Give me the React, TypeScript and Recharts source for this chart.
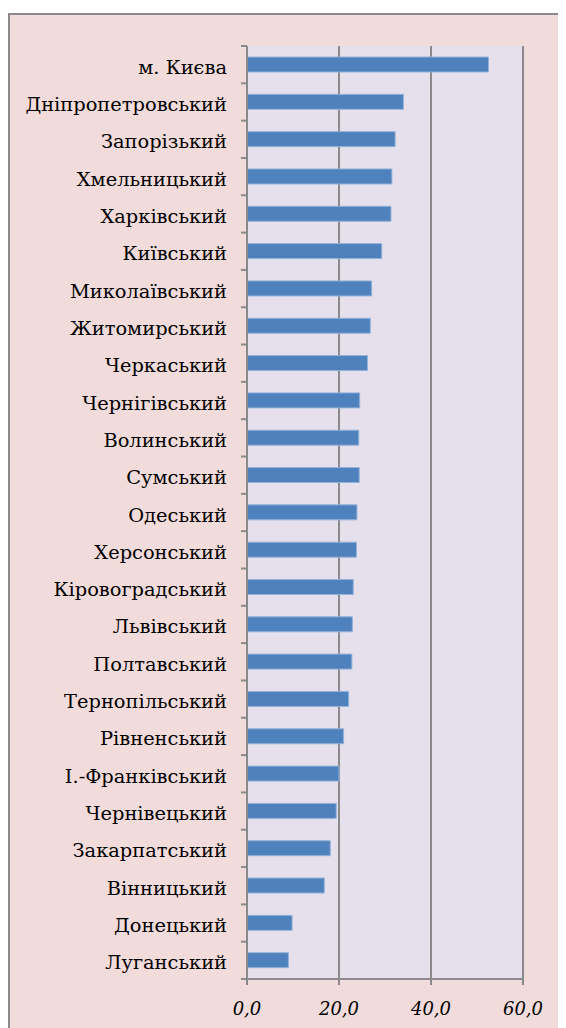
import React from 'react';
import { BarChart, Bar, XAxis, YAxis, CartesianGrid } from 'recharts';

const regions = [
  'м. Києва', 'Дніпропетровський', 'Запорізький', 'Хмельницький', 'Харківський',
  'Київський', 'Миколаївський', 'Житомирський', 'Черкаський', 'Чернігівський',
  'Волинський', 'Сумський', 'Одеський', 'Херсонський', 'Кіровоградський',
  'Львівський', 'Полтавський', 'Тернопільський', 'Рівненський', 'І.-Франківський',
  'Чернівецький', 'Закарпатський', 'Вінницький', 'Донецький', 'Луганський',
];

const values = [
  52.5, 34.0, 32.2, 31.5, 31.3,
  29.3, 27.1, 26.8, 26.2, 24.5,
  24.3, 24.4, 23.9, 23.8, 23.1,
  22.9, 22.8, 22.1, 21.0, 20.0,
  19.4, 18.1, 16.8, 9.8, 9.0,
];

const xTicks = [0, 20, 40, 60];

const data = regions.map((name, i) => ({ name, value: values[i] }));

const W = 558;
const H = 1013;
const M = { top: 31, right: 45, left: 0, bottom: 19 };
const X_AXIS_H = 30;
const BAND = (H - M.top - M.bottom - X_AXIS_H) / regions.length;
const GRAY = '#8a8a8a';
const FONT = 'DejaVu Serif';

const RegionTick = (props: any) => {
  const { x, y, payload, index } = props;
  const axisX = x + 8;
  return (
    <g>
      <line x1={axisX - 6} x2={axisX} y1={y - BAND / 2} y2={y - BAND / 2} stroke={GRAY} strokeWidth={2} />
      {index === regions.length - 1 && (
        <line x1={axisX - 6} x2={axisX} y1={y + BAND / 2} y2={y + BAND / 2} stroke={GRAY} strokeWidth={2} />
      )}
      <text
        transform={`translate(${axisX - 20},${y + 9}) scale(1.05,1)`}
        textAnchor="end"
        fontFamily={FONT}
        fontSize={18.5}
        fill="#000"
      >
        {payload.value}
      </text>
    </g>
  );
};

const ValueTick = (props: any) => {
  const { x, y, payload } = props;
  return (
    <text
      x={x}
      y={y + 28}
      textAnchor="middle"
      fontFamily={FONT}
      fontStyle="italic"
      fontSize={18}
      fill="#000"
    >
      {payload.value.toFixed(1).replace('.', ',')}
    </text>
  );
};

export default function App() {
  return (
    <>
      <style>{'body{overflow:hidden}'}</style>
      <div
        style={{
          position: 'relative',
          top: 5,
          width: 570,
          height: 1020,
          background: '#f2dcdb',
          borderTop: `2px solid ${GRAY}`,
          borderLeft: `2px solid ${GRAY}`,
          boxSizing: 'border-box',
        }}
      >
        <BarChart width={W} height={H} data={data} layout="vertical" margin={M}>
          <CartesianGrid horizontal={false} stroke={GRAY} strokeWidth={2} fill="#e5e0ec" />
          <XAxis
            type="number"
            domain={[0, 60]}
            ticks={xTicks}
            height={X_AXIS_H}
            axisLine={{ stroke: GRAY, strokeWidth: 2 }}
            tickLine={{ stroke: GRAY, strokeWidth: 2 }}
            tickSize={6}
            tickMargin={2}
            tick={<ValueTick />}
          />
          <YAxis
            type="category"
            dataKey="name"
            width={237}
            interval={0}
            axisLine={{ stroke: GRAY, strokeWidth: 2 }}
            tickLine={false}
            tickSize={6}
            tickMargin={2}
            tick={<RegionTick />}
          />
          <Bar dataKey="value" barSize={15} fill="#4f81bd" stroke="#94b3da" strokeWidth={1} isAnimationActive={false} />
        </BarChart>
      </div>
    </>
  );
}
